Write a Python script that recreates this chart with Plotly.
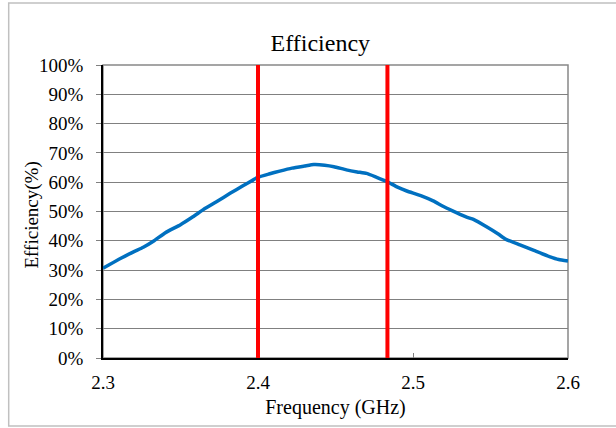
import plotly.graph_objects as go

freq_ghz = [2.300, 2.310, 2.320, 2.326, 2.333, 2.340, 2.350, 2.358, 2.366, 2.374,
            2.382, 2.390, 2.397, 2.400, 2.407, 2.414, 2.422, 2.430, 2.436, 2.443,
            2.449, 2.457, 2.464, 2.470, 2.476, 2.483, 2.490, 2.496, 2.505, 2.513,
            2.520, 2.528, 2.535, 2.539, 2.548, 2.555, 2.560, 2.569, 2.578, 2.588,
            2.594, 2.600]
efficiency_pct = [30.6, 33.6, 36.3, 37.8, 40.0, 42.7, 45.5, 48.2, 51.1, 53.6,
                  56.2, 58.7, 60.8, 61.7, 62.8, 63.8, 64.8, 65.5, 66.0, 65.8,
                  65.3, 64.2, 63.5, 63.0, 61.8, 60.3, 58.3, 57.0, 55.4, 53.6,
                  51.6, 49.6, 48.0, 47.3, 44.6, 42.3, 40.5, 38.6, 36.7, 34.6,
                  33.6, 33.1]
band_edges_ghz = [2.4, 2.4835]
x_ticks = [2.3, 2.4, 2.5, 2.6]
x_tick_labels = ["2.3", "2.4", "2.5", "2.6"]
y_ticks = [0, 10, 20, 30, 40, 50, 60, 70, 80, 90, 100]
y_tick_labels = ["0%", "10%", "20%", "30%", "40%", "50%", "60%", "70%", "80%", "90%", "100%"]

FONT = "Liberation Serif, Times New Roman, DejaVu Serif, serif"

fig = go.Figure()
fig.add_trace(go.Scatter(
    x=freq_ghz, y=efficiency_pct, mode="lines",
    line=dict(color="#0070C0", width=3.5, shape="spline", smoothing=0.4),
    showlegend=False, hoverinfo="x+y",
))

shapes = [
    # outer chart border
    dict(type="rect", xref="paper", yref="paper", x0=-0.2028, x1=1.112, y0=-0.232, y1=1.2116,
         line=dict(color="#C0C0C0", width=1.5), layer="below"),
    # plot-area border
    dict(type="rect", xref="paper", yref="paper", x0=0, x1=1, y0=0, y1=1,
         line=dict(color="#888888", width=1.5), layer="below"),
]
for xe in band_edges_ghz:
    shapes.append(dict(type="line", xref="x", yref="y", x0=xe, x1=xe, y0=-1.1, y1=100,
                       line=dict(color="#FF0000", width=4), layer="above"))

fig.update_layout(
    width=616, height=428,
    margin=dict(l=103, r=48, t=65, b=70),
    paper_bgcolor="white", plot_bgcolor="white",
    font=dict(family=FONT, color="black"),
    title=dict(text="Efficiency", x=0.52, xanchor="center", y=1 - 43 / 428, yanchor="middle",
               font=dict(family=FONT, size=24, color="black")),
    shapes=shapes,
    annotations=[dict(
        text="Efficiency(%)", xref="paper", yref="paper", x=0, y=0.5,
        xanchor="center", yanchor="middle", xshift=-72, yshift=-4, textangle=-90,
        showarrow=False, font=dict(family=FONT, size=19, color="black"),
    )],
    xaxis=dict(
        range=[2.3, 2.6], tickmode="array", tickvals=x_ticks, ticktext=x_tick_labels,
        showgrid=False, zeroline=False,
        showline=True, linecolor="black", linewidth=1.5,
        ticks="inside", ticklen=5, tickcolor="#808080",
        ticklabelstandoff=6,
        tickfont=dict(family=FONT, size=19, color="black"),
        title=dict(text="Frequency (GHz)", font=dict(family=FONT, size=20, color="black"),
                   standoff=8),
    ),
    yaxis=dict(
        range=[0, 100], tickmode="array", tickvals=y_ticks, ticktext=y_tick_labels,
        showgrid=True, gridcolor="#808080", gridwidth=1, zeroline=False,
        showline=True, linecolor="black", linewidth=1.5,
        ticks="outside", ticklen=5, tickcolor="#808080",
        ticklabelstandoff=9,
        tickfont=dict(family=FONT, size=19, color="black"),
    ),
)

fig.write_html("out.html", config={"displayModeBar": False},
               post_script="document.body.style.margin='0';")
